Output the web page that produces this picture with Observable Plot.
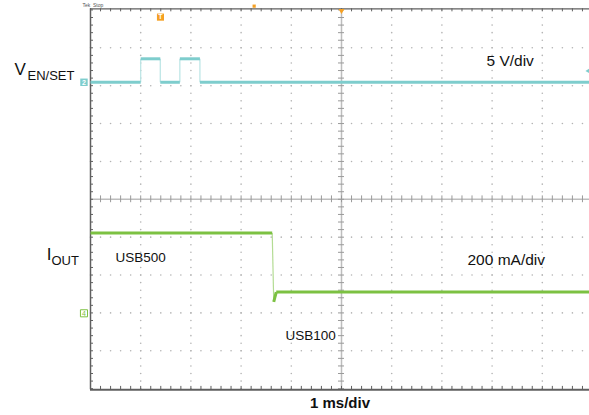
<!DOCTYPE html>
<html>
<head>
<meta charset="utf-8">
<script src="https://cdn.jsdelivr.net/npm/d3@7"></script>
<script src="https://cdn.jsdelivr.net/npm/@observablehq/plot@0.6"></script>
<style>
  html, body { margin: 0; padding: 0; background: #fff; overflow: hidden; }
  #chart svg { overflow: hidden; display: block; }
</style>
</head>
<body>
<div id="chart"></div>
<script>
// ---- Data (read from the scope capture) ----
// Channel 2: V_EN/SET, 5 V/div, ground marker 3.09 div above centre
const enTime  = [0, 1.00, 1.00, 1.39, 1.39, 1.78, 1.78, 2.18, 2.18, 10];   // ms
const enVolts = [0, 0,    3.1,  3.1,  0,    0,    3.1,  3.1,  0,    0];    // V
const enScale = 5;        // V/div
const enOffset = 3.09;    // div

// Channel 4: I_OUT, 200 mA/div, ground marker 3.01 div below centre
const outTime = [0, 3.62, 3.65, 3.70, 10];     // ms
const outMilliamps = [424, 424, 60, 112, 112]; // mA
const outScale = 200;     // mA/div
const outOffset = -3.01;  // div

const hDivs = 10, vHalf = 5.03; // horizontal divisions (1 ms/div), vertical half-span (div)
const font = "'Liberation Sans', Arial, Helvetica, sans-serif";
const cyan = "#7ecdcd", cyanPale = "#b9e4e4";
const green = "#7cc142", greenPale = "#b4dc94";
const orange = "#f5a023";
const gridGrey = "#b3b3b3", frameGrey = "#5f5f5f";

function segments(times, values, scale, offset) {
  return d3.pairs(d3.zip(times, values)).map(([a, b]) => ({
    t1: a[0], t2: b[0],
    y1: offset + a[1] / scale, y2: offset + b[1] / scale,
    edge: Math.abs(a[1] - b[1]) / scale > 0.5
  }));
}
const enSegs = segments(enTime, enVolts, enScale, enOffset);
const outSegs = segments(outTime, outMilliamps, outScale, outOffset);

const xMinor = d3.range(0, hDivs + 0.001, 0.2);
const yMinor = d3.range(-5, 5.001, 0.2);
const gridCols = d3.range(1, hDivs).filter(d => d !== 5);
const gridRows = [-4, -3, -2, -1, 1, 2, 3, 4];
const colDots = gridCols.flatMap(x => yMinor.map(y => ({x, y})));
const rowDots = gridRows.flatMap(y => xMinor.map(x => ({x, y})));

// Labels (positions in ms / divisions)
const labels = [
  {t: -1.514, y: 3.276, text: "V", size: 17},
  {t: -1.255, y: 3.144, text: "EN/SET", size: 13},
  {t: -0.871, y: -1.612, text: "I", size: 17},
  {t: -0.777, y: -1.744, text: "OUT", size: 13},
  {t: 0.498, y: -1.664, text: "USB500", size: 13.5},
  {t: 3.884, y: -3.725, text: "USB100", size: 13.5},
  {t: 7.51, y: -1.744, text: "200 mA/div", size: 15.5},
  {t: 7.888, y: 3.514, text: "5 V/div", size: 15.5}
];

const plot = Plot.plot({
  width: 589,
  height: 415,
  x: {domain: [0, hDivs], range: [90, 592], axis: null},
  y: {domain: [-vHalf, vHalf], range: [389.3, 8.3], axis: null},
  style: {fontFamily: font, background: "#fff", overflow: "hidden"},
  marks: [
    // dotted graticule
    Plot.dot(colDots, {x: "x", y: "y", r: 0.8, fill: gridGrey, stroke: null}),
    Plot.dot(rowDots, {x: "x", y: "y", r: 0.8, fill: gridGrey, stroke: null}),
    // centre axes with minor ticks
    Plot.ruleY([0], {x1: 0, x2: hDivs, stroke: "#bdbdbd", strokeWidth: 1.5}),
    Plot.ruleX([5], {y1: -vHalf, y2: vHalf, stroke: "#bdbdbd", strokeWidth: 1.5}),
    Plot.ruleX(xMinor, {x: d => d, y1: -0.09, y2: 0.09, stroke: "#9a9a9a", strokeWidth: 1}),
    Plot.ruleY(yMinor, {y: d => d, x1: 4.94, x2: 5.06, stroke: "#9a9a9a", strokeWidth: 1}),
    // frame edges with ticks
    Plot.ruleY([vHalf], {x1: 0, x2: hDivs, stroke: frameGrey, strokeWidth: 1.2}),
    Plot.ruleY([-vHalf], {x1: 0, x2: hDivs, stroke: frameGrey, strokeWidth: 2}),
    Plot.ruleX([0], {y1: -vHalf, y2: vHalf, stroke: frameGrey, strokeWidth: 1.5}),
    Plot.ruleX(xMinor, {x: d => d, y1: vHalf, y2: vHalf - 0.08, stroke: frameGrey, strokeWidth: 1}),
    Plot.ruleX(xMinor, {x: d => d, y1: -vHalf, y2: -vHalf + 0.09, stroke: frameGrey, strokeWidth: 1}),
    Plot.ruleY(yMinor, {y: d => d, x1: 0, x2: 0.06, stroke: frameGrey, strokeWidth: 1}),
    // channel 2 trace
    Plot.link(enSegs.filter(d => d.edge), {x1: "t1", y1: "y1", x2: "t2", y2: "y2", stroke: cyanPale, strokeWidth: 1.2}),
    Plot.link(enSegs.filter(d => !d.edge), {x1: "t1", y1: "y1", x2: "t2", y2: "y2", stroke: cyan, strokeWidth: 3, strokeLinecap: "butt"}),
    // channel 4 trace
    Plot.link(outSegs.filter(d => d.edge), {x1: "t1", y1: "y1", x2: "t2", y2: "y2", stroke: greenPale, strokeWidth: 1.2}),
    Plot.link(outSegs.filter(d => !d.edge), {x1: "t1", y1: "y1", x2: "t2", y2: "y2", stroke: green, strokeWidth: 3, strokeLinecap: "butt"}),
    // channel ground markers
    Plot.dot([enOffset], {x: -0.13, y: d => d, symbol: "square", r: 4.2, fill: cyan, stroke: null}),
    Plot.text([enOffset], {x: -0.13, y: d => d, text: () => "2", fill: "#fff", fontSize: 7, fontWeight: "bold"}),
    Plot.dot([outOffset], {x: -0.13, y: d => d, symbol: "square", r: 4, fill: "#fff", stroke: green, strokeWidth: 1}),
    Plot.text([outOffset], {x: -0.13, y: d => d, text: () => "4", fill: green, fontSize: 7}),
    // trigger markers
    Plot.dot([1.394], {x: d => d, y: 4.81, symbol: "square", r: 4, fill: orange, stroke: null}),
    Plot.text([1.394], {x: d => d, y: 4.81, text: () => "T", fill: "#fff", fontSize: 7, fontWeight: "bold"}),
    Plot.dot([3.26], {x: d => d, y: 5.1, symbol: "square", r: 1.8, fill: orange, stroke: null}),
    Plot.dot([5.0], {x: d => d, y: 4.98, symbol: "triangle", rotate: 180, r: 2.2, fill: orange, stroke: null}),
    Plot.dot([enOffset + 0.3], {x: 9.94, y: d => d, symbol: "triangle", rotate: -90, r: 2.6, fill: cyan, stroke: null}),
    // tiny status text cropped at the top
    Plot.text(["Tek  Stop"], {x: -0.16, y: 5.07, text: d => d, fontSize: 5, fill: "#555", textAnchor: "start", lineAnchor: "bottom"}),
    // labels
    Plot.text(labels, {x: "t", y: "y", text: "text", fontSize: "size", textAnchor: "start", lineAnchor: "bottom", fill: "#111"}),
    Plot.text(["1 ms/div"], {x: 4.97, y: -5.52, text: d => d, fontSize: 15, fontWeight: "bold", textAnchor: "middle", lineAnchor: "bottom", fill: "#111"})
  ]
});
document.getElementById("chart").appendChild(plot);
</script>
</body>
</html>
